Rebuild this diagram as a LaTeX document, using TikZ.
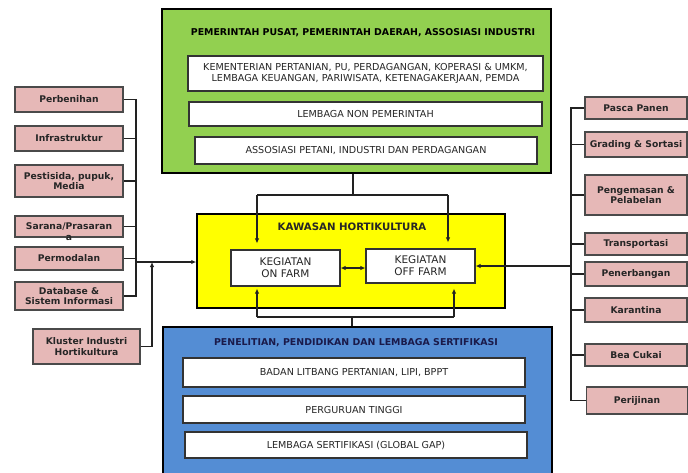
\documentclass[tikz,border=0pt]{standalone}
\usepackage{fontspec}
\setmainfont{DejaVu Sans}
\usetikzlibrary{arrows.meta}

\definecolor{govgreen}{HTML}{92D050}
\definecolor{zoneyellow}{HTML}{FFFF00}
\definecolor{resblue}{HTML}{548DD4}
\definecolor{pinkfill}{HTML}{E6B8B7}
\definecolor{boxedge}{HTML}{4A4A4A}
\definecolor{inneredge}{HTML}{333333}
\definecolor{textgray}{HTML}{262626}
\definecolor{lineclr}{HTML}{222222}
\definecolor{navytitle}{HTML}{1A1A4A}

\begin{document}
\begin{tikzpicture}[x=1pt,y=-1pt,
  pinkbox/.style={draw=boxedge, line width=1.6pt, fill=pinkfill, text=textgray,
    font=\fontsize{9.2}{10.5}\selectfont\bfseries, align=center, inner sep=0pt},
  whitebox/.style={draw=inneredge, line width=1.2pt, fill=white, text=textgray,
    font=\fontsize{9.6}{11.5}\selectfont, align=center, inner sep=0pt},
  farmbox/.style={whitebox, font=\fontsize{10.5}{12}\selectfont},
  panel/.style={draw=black, line width=1.5pt, inner sep=0pt},
  paneltitle/.style={font=\fontsize{9.4}{11}\selectfont\bfseries, inner sep=0pt},
  conn/.style={draw=lineclr, line width=1.3pt},
  arr/.style={conn, -{Latex[length=5pt,width=4.5pt]}},
  biarr/.style={conn, {Latex[length=5pt,width=4.5pt]}-{Latex[length=5pt,width=4.5pt]}},
]
\clip (0,0) rectangle (688,472);
\fill[white] (0,0) rectangle (688,472);

% ---- government panel (top) ----
\node[panel, fill=govgreen, minimum width=389pt, minimum height=164pt] (gov) at (356.5,91) {};
\node[paneltitle, text=black] (govtitle) at (363,33) {PEMERINTAH PUSAT, PEMERINTAH DAERAH, ASSOSIASI INDUSTRI};
\node[whitebox, minimum width=355pt, minimum height=35pt] (g1) at (365.5,73.5)
  {KEMENTERIAN PERTANIAN, PU, PERDAGANGAN, KOPERASI \& UMKM,\\LEMBAGA KEUANGAN, PARIWISATA, KETENAGAKERJAAN, PEMDA};
\node[whitebox, minimum width=353pt, minimum height=24pt] (g2) at (365.5,114) {LEMBAGA NON PEMERINTAH};
\node[whitebox, minimum width=342pt, minimum height=27pt] (g3) at (366,150.5) {ASSOSIASI PETANI, INDUSTRI DAN PERDAGANGAN};

% ---- horticulture zone (middle) ----
\node[panel, fill=zoneyellow, minimum width=308pt, minimum height=94pt] (zone) at (351,261) {};
\node[paneltitle, font=\fontsize{10.2}{12}\selectfont\bfseries, text=textgray] (zonetitle) at (352,227) {KAWASAN HORTIKULTURA};
\node[farmbox, minimum width=109pt, minimum height=36pt] (onfarm) at (285.5,268) {KEGIATAN\\ON FARM};
\node[farmbox, minimum width=109pt, minimum height=34pt] (offfarm) at (420.5,266) {KEGIATAN\\OFF FARM};

% ---- research panel (bottom) ----
\node[panel, fill=resblue, minimum width=389pt, minimum height=152pt] (res) at (357.5,403) {};
\node[paneltitle, text=navytitle] (restitle) at (356,343) {PENELITIAN, PENDIDIKAN DAN LEMBAGA SERTIFIKASI};
\node[whitebox, minimum width=342pt, minimum height=29pt] (b1) at (354,372.5) {BADAN LITBANG PERTANIAN, LIPI, BPPT};
\node[whitebox, minimum width=342pt, minimum height=27pt] (b2) at (354,409.5) {PERGURUAN TINGGI};
\node[whitebox, minimum width=342pt, minimum height=26pt] (b3) at (356,445) {LEMBAGA SERTIFIKASI (GLOBAL GAP)};

% ---- on-farm inputs (left) ----
\node[pinkbox, minimum width=108pt, minimum height=25pt] (perb) at (69,99.5) {Perbenihan};
\node[pinkbox, minimum width=108pt, minimum height=25pt] (infra) at (69,138.5) {Infrastruktur};
\node[pinkbox, minimum width=108pt, minimum height=32pt] (pest) at (69,181) {Pestisida, pupuk,\\Media};
\node[pinkbox, minimum width=108pt, minimum height=21pt] (sar) at (69,226.5) {};
\node[pinkbox, draw=none, fill=none] (sartext) at (69,231.5) {Sarana/Prasaran\\a};
\node[pinkbox, minimum width=108pt, minimum height=23pt] (perm) at (69,258.5) {Permodalan};
\node[pinkbox, minimum width=108pt, minimum height=28pt] (db) at (69,296) {Database \&\\Sistem Informasi};
\node[pinkbox, minimum width=107pt, minimum height=35pt] (klu) at (86.5,346.5) {Kluster Industri\\Hortikultura};

% ---- off-farm services (right) ----
\node[pinkbox, minimum width=102pt, minimum height=22pt] (pasca) at (636,108) {Pasca Panen};
\node[pinkbox, minimum width=102pt, minimum height=25pt] (grad) at (636,144.5) {Grading \& Sortasi};
\node[pinkbox, minimum width=102pt, minimum height=40pt] (peng) at (636,195) {Pengemasan \&\\Pelabelan};
\node[pinkbox, minimum width=102pt, minimum height=22pt] (trans) at (636,244) {Transportasi};
\node[pinkbox, minimum width=102pt, minimum height=24pt] (pener) at (636,274) {Penerbangan};
\node[pinkbox, minimum width=102pt, minimum height=24pt] (kar) at (636,310) {Karantina};
\node[pinkbox, minimum width=102pt, minimum height=22pt] (bea) at (636,355) {Bea Cukai};
\node[pinkbox, minimum width=101pt, minimum height=27pt] (peri) at (637,400.5) {Perijinan};

% ---- junction points ----
\coordinate (ltrunk) at (136,0);
\coordinate (rtrunk) at (571,0);
\coordinate (lin) at (136,262);
\coordinate (kjoin) at (152,262);
\coordinate (rin) at (571,266);
\coordinate (topj) at (353,195);
\coordinate (topl) at (257,195);
\coordinate (topr) at (448,195);
\coordinate (botj) at (352,317);
\coordinate (botl) at (257,317);
\coordinate (botr) at (454,317);

% left tree
\draw[conn] (perb.east) -- (perb.east -| ltrunk) -- (db.east -| ltrunk) -- (db.east);
\foreach \n in {infra,pest,sar,perm} \draw[conn] (\n.east) -- (\n.east -| ltrunk);
\draw[arr] (lin) -- (lin -| zone.west);
\draw[arr] (klu.east) -| (kjoin);

% right tree
\draw[conn] (pasca.west) -- (pasca.west -| rtrunk) -- (peri.west -| rtrunk) -- (peri.west);
\foreach \n in {grad,peng,trans,pener,kar,bea} \draw[conn] (\n.west) -- (\n.west -| rtrunk);
\draw[arr] (rin) -- (rin -| offfarm.east);

% top links into the zone
\draw[conn] (topj |- gov.south) -- (topj);
\draw[conn] (topl) -- (topr);
\draw[arr, shorten >=6pt] (topl) -- (topl |- onfarm.north);
\draw[arr, shorten >=6pt] (topr) -- (topr |- offfarm.north);

% bottom links into the zone
\draw[conn] (botj |- res.north) -- (botj);
\draw[conn] (botl) -- (botr);
\draw[arr, shorten >=2pt] (botl) -- (botl |- onfarm.south);
\draw[arr, shorten >=5pt] (botr) -- (botr |- offfarm.south);

% between on-farm and off-farm
\draw[biarr] (onfarm.east) -- (onfarm.east -| offfarm.west);
\end{tikzpicture}
\end{document}
